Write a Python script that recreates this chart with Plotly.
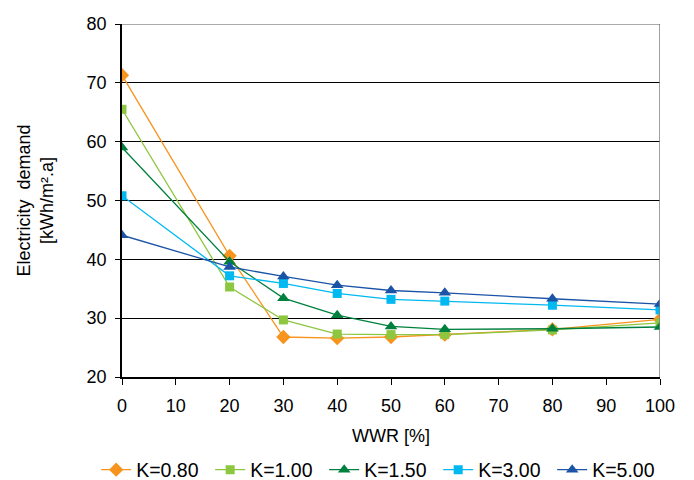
import plotly.graph_objects as go

wwr = [0, 20, 30, 40, 50, 60, 80, 100]
k080 = [71.3, 40.6, 26.8, 26.6, 26.8, 27.2, 28.1, 29.8]
k100 = [65.5, 35.3, 29.7, 27.3, 27.2, 27.2, 28.0, 29.2]
k150 = [59.0, 39.6, 33.4, 30.5, 28.6, 28.1, 28.2, 28.5]
k300 = [50.8, 37.2, 35.9, 34.2, 33.2, 32.9, 32.2, 31.4]
k500 = [44.1, 38.7, 37.1, 35.6, 34.7, 34.3, 33.3, 32.4]

series = [
    ("K=0.80", k080, "#F7941D", "diamond", 11),
    ("K=1.00", k100, "#8DC63F", "square", 9),
    ("K=1.50", k150, "#00803E", "triangle-up", 11),
    ("K=3.00", k300, "#00B9F1", "square", 9),
    ("K=5.00", k500, "#1B54A6", "triangle-up", 11),
]

fig = go.Figure()
for name, vals, color, sym, sz in series:
    fig.add_trace(go.Scatter(
        x=wwr, y=vals, name=name, mode="lines+markers",
        line=dict(color=color, width=1.3),
        marker=dict(symbol=sym, size=sz, color=color),
    ))

font = dict(family="Liberation Sans, Arial, sans-serif", size=18, color="#000")
fig.update_layout(
    width=694, height=480,
    margin=dict(l=122, r=34, t=24, b=103, autoexpand=False),
    paper_bgcolor="white", plot_bgcolor="white",
    font=font,
    showlegend=True,
    legend=dict(orientation="h", x=-0.048, xanchor="left",
                y=-0.2635, yanchor="middle",
                font=dict(size=19.5), itemwidth=30, tracegroupgap=0,
                entrywidth=69, entrywidthmode="pixels"),
    xaxis=dict(range=[0, 100], tickmode="array", tickvals=list(range(0, 101, 10)),
               showgrid=False, zeroline=False,
               showline=True, linecolor="#000", linewidth=1.5, mirror=False,
               ticks="outside", ticklen=6, tickcolor="#000",
               tickfont=dict(size=18), ticklabelstandoff=6,
               title=dict(text="WWR [%]", standoff=14, font=dict(size=18))),
    yaxis=dict(range=[20, 80],
               tickmode="array", tickvals=list(range(20, 81, 10)),
               showgrid=True, gridcolor="#000", gridwidth=1, zeroline=False,
               showline=True, linecolor="#000", linewidth=1.5,
               ticks="outside", ticklen=5, tickcolor="#000",
               tickfont=dict(size=18), ticklabelstandoff=5,
               title=dict(text="Electricity  demand<br>[kWh/m².a]", standoff=28,
                          font=dict(size=18))),
)
# frame lines: right and top
fig.add_shape(type="line", xref="x", yref="y", x0=100, x1=100, y0=20, y1=80,
              line=dict(color="#808080", width=1.5))
fig.add_shape(type="line", xref="x", yref="y", x0=0, x1=100, y0=80, y1=80,
              line=dict(color="#555", width=1.2))
fig.write_html("out.html")
